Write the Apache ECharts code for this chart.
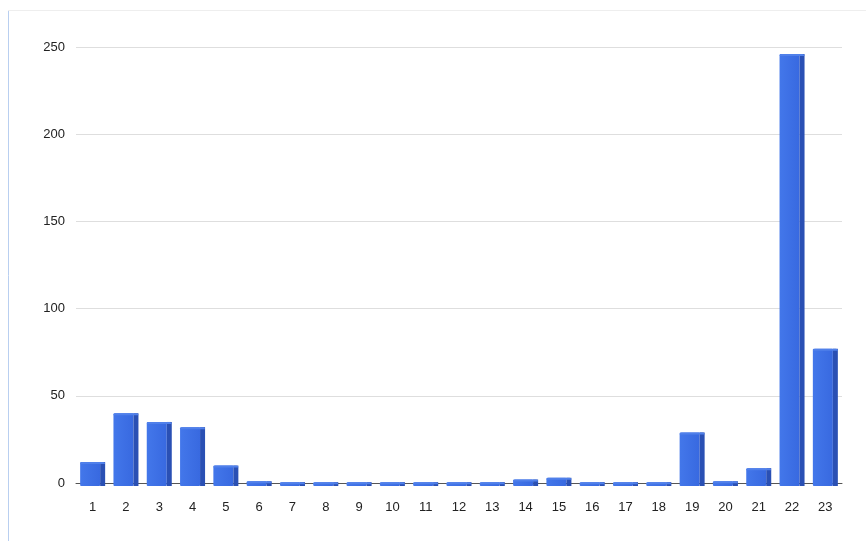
<!DOCTYPE html>
<html>
<head>
<meta charset="utf-8">
<script src="https://cdn.jsdelivr.net/npm/echarts@6/dist/echarts.min.js"></script>
<style>
  html, body { margin: 0; padding: 0; background: #ffffff; }
  #chart { width: 866px; height: 541px; }
</style>
</head>
<body>
<div id="chart"></div>
<script>
// Hour buckets on the x axis and their counts
const categories = ['1','2','3','4','5','6','7','8','9','10','11','12','13','14','15','16','17','18','19','20','21','22','23'];
const counts = [12, 40, 35, 32, 10, 1, 0.5, 0.5, 0.5, 0.5, 0.5, 0.5, 0.5, 2, 3, 0.5, 0.5, 0.5, 29, 1, 8.5, 246, 77];
const yTicks = [0, 50, 100, 150, 200, 250];

const chart = echarts.init(document.getElementById('chart'), null, { renderer: 'canvas' });

// Each column is drawn as a front face, a darker right side and a thin lit cap
function renderColumn(params, api) {
  const idx = api.value(0);
  const val = api.value(1);
  const top = api.coord([idx, val]);
  const base = api.coord([idx, 0]);
  const w = 25;
  const side = 5;
  const x0 = top[0] - w / 2;
  const frontW = w - side;
  const yTop = top[1];
  const yBot = base[1] + 3;
  const h = Math.max(yBot - yTop, 3);
  return {
    type: 'group',
    children: [
      {
        type: 'rect',
        shape: { x: x0, y: yBot - h, width: frontW, height: h, r: 1 },
        style: {
          fill: new echarts.graphic.LinearGradient(0, 0, 1, 0, [
            { offset: 0, color: '#4377ea' },
            { offset: 1, color: '#3869e0' }
          ])
        }
      },
      {
        type: 'rect',
        shape: { x: x0 + frontW, y: yBot - h, width: side, height: h },
        style: { fill: '#2a50b4' }
      },
      {
        type: 'rect',
        shape: { x: x0, y: yBot - h, width: w, height: Math.min(2, h), r: [2, 2, 0, 0] },
        style: { fill: '#5080ea' }
      }
    ]
  };
}

chart.setOption({
  backgroundColor: '#ffffff',
  animation: false,
  grid: { left: 76, right: 24, top: 47, bottom: 58 },
  xAxis: {
    type: 'category',
    data: categories,
    axisLine: { show: true, lineStyle: { color: '#555555', width: 1 } },
    axisTick: { show: false },
    axisLabel: { color: '#222222', fontSize: 13, fontFamily: 'Liberation Sans, Arial, sans-serif', margin: 18 }
  },
  yAxis: {
    type: 'value',
    min: yTicks[0],
    max: yTicks[yTicks.length - 1],
    interval: 50,
    axisLine: { show: false },
    axisTick: { show: false },
    splitLine: { lineStyle: { color: '#dedede', width: 1 } },
    axisLabel: { color: '#222222', fontSize: 13, fontFamily: 'Liberation Sans, Arial, sans-serif', margin: 11 }
  },
  graphic: [
    { type: 'line', shape: { x1: 8.5, y1: 10, x2: 8.5, y2: 541 }, style: { stroke: '#b9cff0', lineWidth: 1 } },
    { type: 'line', shape: { x1: 8, y1: 10.5, x2: 866, y2: 10.5 }, style: { stroke: '#eeeeee', lineWidth: 1 } }
  ],
  series: [
    {
      type: 'custom',
      renderItem: renderColumn,
      encode: { x: 0, y: 1 },
      data: counts.map((v, i) => [i, v]),
      z: 3
    }
  ]
});
</script>
</body>
</html>
